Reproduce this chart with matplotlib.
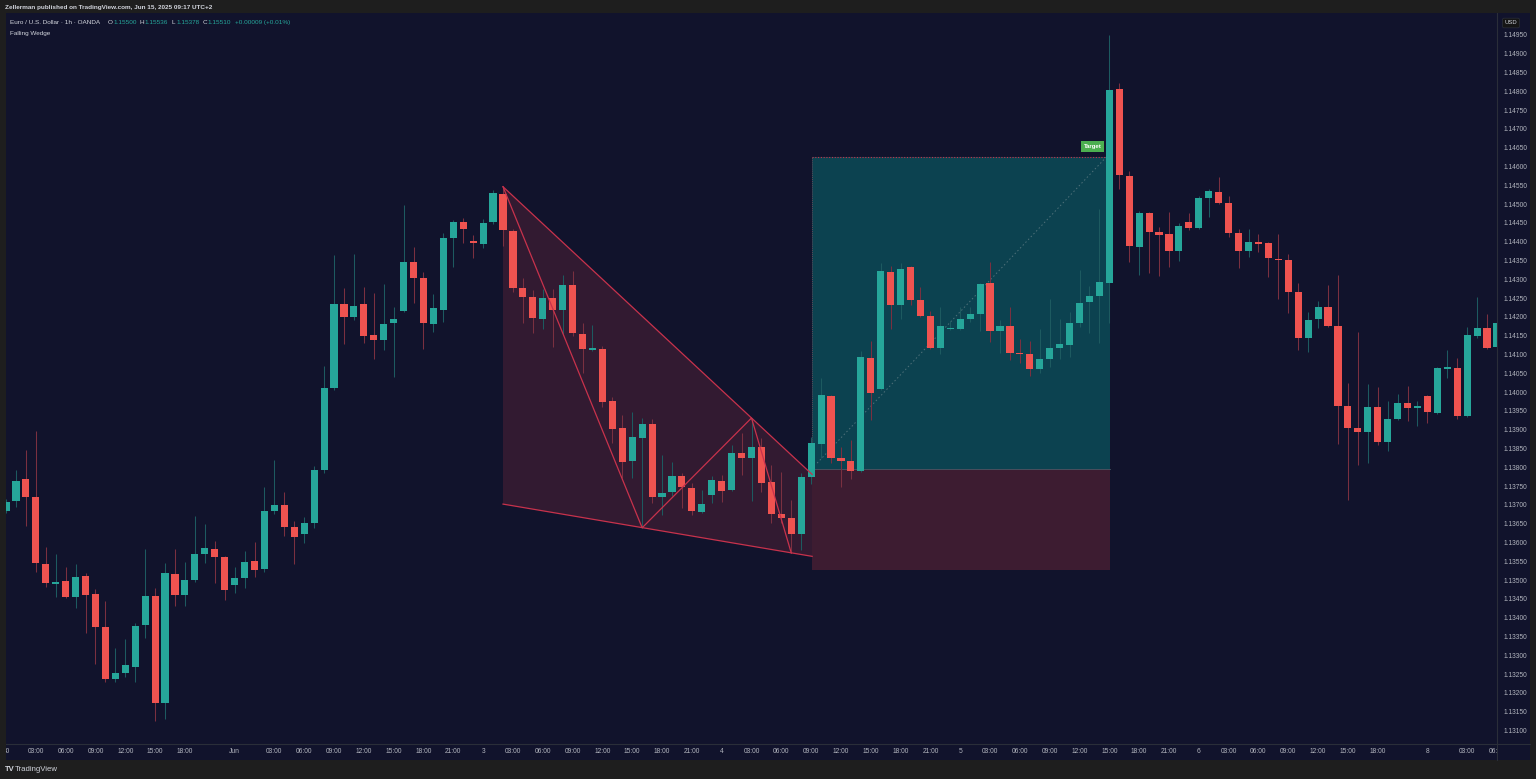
import matplotlib.pyplot as plt
from matplotlib.patches import Rectangle, Polygon
import numpy as np

# EUR/USD 1h candles, bar 0 = Fri May 30 00:00 (UTC+2)
opens = [1.13684, 1.13710, 1.13769, 1.13721, 1.13543, 1.13490, 1.13498, 1.13455, 1.13511, 1.13463,
         1.13375, 1.13237, 1.13253, 1.13269, 1.13381, 1.13458, 1.13173, 1.13516, 1.13460, 1.13500,
         1.13569, 1.13583, 1.13561, 1.13487, 1.13506, 1.13551, 1.13530, 1.13684, 1.13700, 1.13641,
         1.13623, 1.13652, 1.13793, 1.14011, 1.14234, 1.14200, 1.14234, 1.14152, 1.14139, 1.14184,
         1.14216, 1.14346, 1.14304, 1.14181, 1.14218, 1.14410, 1.14453, 1.14402, 1.14394, 1.14453,
         1.14527, 1.14429, 1.14277, 1.14253, 1.14195, 1.14250, 1.14218, 1.14285, 1.14155, 1.14112,
         1.14115, 1.13976, 1.13905, 1.13817, 1.13879, 1.13915, 1.13721, 1.13734, 1.13777, 1.13745,
         1.13681, 1.13726, 1.13764, 1.13740, 1.13838, 1.13825, 1.13854, 1.13761, 1.13676, 1.13665,
         1.13623, 1.13774, 1.13862, 1.13990, 1.13825, 1.13817, 1.13790, 1.14091, 1.14008, 1.14320,
         1.14232, 1.14333, 1.14245, 1.14202, 1.14117, 1.14168, 1.14168, 1.14195, 1.14208, 1.14290,
         1.14163, 1.14176, 1.14104, 1.14101, 1.14062, 1.14088, 1.14117, 1.14125, 1.14184, 1.14240,
         1.14256, 1.14290, 1.14806, 1.14575, 1.14386, 1.14476, 1.14426, 1.14421, 1.14375, 1.14453,
         1.14437, 1.14516, 1.14532, 1.14504, 1.14423, 1.14375, 1.14399, 1.14397, 1.14354, 1.14351,
         1.14266, 1.14144, 1.14195, 1.14226, 1.14176, 1.13963, 1.13905, 1.13894, 1.13960, 1.13867,
         1.13929, 1.13971, 1.13958, 1.13990, 1.13944, 1.14062, 1.14064, 1.13936, 1.14149, 1.14171,
         1.14120]
highs = [1.13716, 1.13793, 1.13846, 1.13897, 1.13588, 1.13569, 1.13535, 1.13543, 1.13519, 1.13476,
         1.13444, 1.13319, 1.13343, 1.13386, 1.13583, 1.13479, 1.13545, 1.13583, 1.13548, 1.13670,
         1.13649, 1.13604, 1.13564, 1.13535, 1.13577, 1.13601, 1.13748, 1.13819, 1.13734, 1.13657,
         1.13668, 1.13803, 1.14069, 1.14365, 1.14277, 1.14367, 1.14280, 1.14264, 1.14288, 1.14226,
         1.14498, 1.14386, 1.14320, 1.14261, 1.14423, 1.14458, 1.14463, 1.14418, 1.14461, 1.14538,
         1.14546, 1.14434, 1.14304, 1.14272, 1.14274, 1.14274, 1.14312, 1.14322, 1.14184, 1.14179,
         1.14123, 1.13987, 1.13939, 1.13947, 1.13931, 1.13929, 1.13833, 1.13814, 1.13785, 1.13758,
         1.13740, 1.13777, 1.13780, 1.13859, 1.13891, 1.13931, 1.13879, 1.13806, 1.13788, 1.13713,
         1.13785, 1.13881, 1.14038, 1.13992, 1.13854, 1.13873, 1.14109, 1.14136, 1.14343, 1.14335,
         1.14343, 1.14335, 1.14280, 1.14216, 1.14226, 1.14189, 1.14226, 1.14226, 1.14290, 1.14346,
         1.14192, 1.14226, 1.14141, 1.14136, 1.14168, 1.14248, 1.14195, 1.14213, 1.14325, 1.14282,
         1.14487, 1.14950, 1.14822, 1.14588, 1.14482, 1.14479, 1.14439, 1.14479, 1.14450, 1.14476,
         1.14522, 1.14540, 1.14572, 1.14522, 1.14434, 1.14434, 1.14421, 1.14399, 1.14421, 1.14367,
         1.14290, 1.14213, 1.14242, 1.14285, 1.14312, 1.14024, 1.14160, 1.14022, 1.14014, 1.13976,
         1.13995, 1.14016, 1.13976, 1.13992, 1.14067, 1.14112, 1.14091, 1.14173, 1.14253, 1.14208,
         1.14192]
lows = [1.13678, 1.13694, 1.13644, 1.13522, 1.13482, 1.13455, 1.13452, 1.13426, 1.13359, 1.13277,
        1.13229, 1.13229, 1.13242, 1.13229, 1.13346, 1.13125, 1.13131, 1.13431, 1.13431, 1.13495,
        1.13545, 1.13492, 1.13447, 1.13466, 1.13479, 1.13508, 1.13522, 1.13676, 1.13617, 1.13543,
        1.13599, 1.13639, 1.13785, 1.14006, 1.14128, 1.14192, 1.14131, 1.14088, 1.14112, 1.14040,
        1.14213, 1.14237, 1.14115, 1.14160, 1.14187, 1.14333, 1.14397, 1.14357, 1.14383, 1.14447,
        1.14389, 1.14266, 1.14184, 1.14157, 1.14168, 1.14120, 1.14152, 1.14149, 1.14051, 1.14109,
        1.13960, 1.13865, 1.13772, 1.13772, 1.13639, 1.13705, 1.13673, 1.13724, 1.13692, 1.13673,
        1.13678, 1.13705, 1.13708, 1.13737, 1.13780, 1.13710, 1.13734, 1.13652, 1.13652, 1.13572,
        1.13580, 1.13756, 1.13825, 1.13811, 1.13748, 1.13769, 1.13788, 1.13926, 1.14006, 1.14168,
        1.14195, 1.14232, 1.14200, 1.14115, 1.14101, 1.14165, 1.14165, 1.14187, 1.14163, 1.14133,
        1.14104, 1.14085, 1.14077, 1.14043, 1.14051, 1.14067, 1.14088, 1.14093, 1.14173, 1.14157,
        1.14131, 1.14184, 1.14540, 1.14346, 1.14312, 1.14317, 1.14309, 1.14333, 1.14349, 1.14431,
        1.14434, 1.14466, 1.14501, 1.14413, 1.14330, 1.14359, 1.14373, 1.14306, 1.14248, 1.14210,
        1.14112, 1.14107, 1.14171, 1.14173, 1.13862, 1.13713, 1.13806, 1.13811, 1.13859, 1.13843,
        1.13926, 1.13923, 1.13910, 1.13918, 1.13941, 1.14038, 1.13929, 1.13933, 1.14144, 1.14115,
        1.14112]
closes = [1.13708, 1.13764, 1.13721, 1.13545, 1.13492, 1.13495, 1.13455, 1.13508, 1.13460, 1.13375,
          1.13237, 1.13253, 1.13274, 1.13378, 1.13458, 1.13173, 1.13519, 1.13460, 1.13500, 1.13569,
          1.13585, 1.13561, 1.13474, 1.13506, 1.13548, 1.13527, 1.13684, 1.13700, 1.13641, 1.13615,
          1.13652, 1.13793, 1.14011, 1.14234, 1.14200, 1.14229, 1.14149, 1.14139, 1.14181, 1.14195,
          1.14346, 1.14304, 1.14184, 1.14224, 1.14410, 1.14453, 1.14434, 1.14397, 1.14450, 1.14530,
          1.14431, 1.14277, 1.14253, 1.14197, 1.14250, 1.14218, 1.14285, 1.14157, 1.14115, 1.14117,
          1.13974, 1.13902, 1.13814, 1.13881, 1.13915, 1.13721, 1.13732, 1.13777, 1.13748, 1.13684,
          1.13702, 1.13766, 1.13737, 1.13838, 1.13825, 1.13854, 1.13758, 1.13676, 1.13665, 1.13623,
          1.13774, 1.13865, 1.13992, 1.13825, 1.13817, 1.13790, 1.14093, 1.13998, 1.14322, 1.14232,
          1.14328, 1.14245, 1.14202, 1.14117, 1.14176, 1.14171, 1.14195, 1.14208, 1.14288, 1.14163,
          1.14176, 1.14104, 1.14101, 1.14062, 1.14088, 1.14117, 1.14128, 1.14184, 1.14237, 1.14256,
          1.14293, 1.14804, 1.14578, 1.14389, 1.14476, 1.14426, 1.14418, 1.14375, 1.14442, 1.14437,
          1.14516, 1.14535, 1.14504, 1.14423, 1.14375, 1.14399, 1.14394, 1.14357, 1.14351, 1.14266,
          1.14144, 1.14192, 1.14226, 1.14176, 1.13963, 1.13905, 1.13894, 1.13960, 1.13867, 1.13929,
          1.13971, 1.13958, 1.13963, 1.13947, 1.14064, 1.14067, 1.13936, 1.14152, 1.14171, 1.14117,
          1.14184]

# time axis labels (bar index -> text)
tick_bars = [0, 3, 6, 9, 12, 15, 18, 23, 27, 30, 33, 36, 39, 42, 45,
             48, 51, 54, 57, 60, 63, 66, 69, 72, 75, 78, 81, 84, 87, 90, 93,
             96, 99, 102, 105, 108, 111, 114, 117, 120, 123, 126, 129, 132, 135, 138,
             143, 147, 150]
tick_labels = ["30", "03:00", "06:00", "09:00", "12:00", "15:00", "18:00", "Jun",
               "03:00", "06:00", "09:00", "12:00", "15:00", "18:00", "21:00",
               "3", "03:00", "06:00", "09:00", "12:00", "15:00", "18:00", "21:00",
               "4", "03:00", "06:00", "09:00", "12:00", "15:00", "18:00", "21:00",
               "5", "03:00", "06:00", "09:00", "12:00", "15:00", "18:00", "21:00",
               "6", "03:00", "06:00", "09:00", "12:00", "15:00", "18:00",
               "8", "03:00", "06:00"]

# falling wedge pivots (bar, price)
wedge_zigzag = [(50, 1.14546), (64, 1.13639), (75, 1.13931), (79, 1.13572)]
wedge_upper = [(50, 1.14546), (81.1, 1.13781)]
wedge_lower = [(50, 1.13702), (81.1, 1.13563)]

# long position tool
pos_start, pos_end = 81.1, 111.1
entry_price, target_price, stop_price = 1.13795, 1.14625, 1.13527

W, H = 1536, 779
BG = "#11132c"
FRAME = "#1e1e1e"
UP = "#26a69a"
DOWN = "#ef5350"
TXT = "#b2b5be"
LINE = "#c8324c"
FONT = "Liberation Sans"


def fx(px):
    return px / W


def fy(py):
    return 1 - py / H


fig = plt.figure(figsize=(W / 100, H / 100), dpi=100, facecolor=FRAME)

# navy panel behind chart, price scale and time scale
fig.patches.append(Rectangle((fx(6), fy(760)), fx(1530) - fx(6), fy(13) - fy(760),
                             transform=fig.transFigure, fc=BG, ec="none", zorder=-5))

ax = fig.add_axes([fx(6), fy(744), fx(1497) - fx(6), fy(13) - fy(744)])
ax.set_facecolor(BG)
for s in ax.spines.values():
    s.set_visible(False)

x = np.arange(len(opens))
o, h, l, c = (np.array(v) for v in (opens, highs, lows, closes))
up = c >= o
body_col = np.where(up, UP, DOWN)
wick_col = np.where(up, "#1d5a60", "#7a3040")

ax.vlines(x, l, h, colors=wick_col, lw=0.75, zorder=3)
ax.bar(x, np.maximum(np.abs(c - o), 0.00003), bottom=np.minimum(o, c),
       width=0.72, color=body_col, lw=0, zorder=4)

# wedge
wx = [wedge_upper[0][0], wedge_upper[1][0], wedge_lower[1][0], wedge_lower[0][0]]
wy = [wedge_upper[0][1], wedge_upper[1][1], wedge_lower[1][1], wedge_lower[0][1]]
ax.add_patch(Polygon(list(zip(wx, wy)), closed=True, fc="#321a31", ec="none", zorder=1))
for seg in (wedge_upper, wedge_lower, wedge_zigzag):
    ax.plot([p[0] for p in seg], [p[1] for p in seg], color=LINE, lw=0.9, zorder=5)

# position boxes
ax.add_patch(Rectangle((pos_start, entry_price), pos_end - pos_start, target_price - entry_price,
                       fc="#0c4250", ec="none", zorder=1))
ax.add_patch(Rectangle((pos_start, stop_price), pos_end - pos_start, entry_price - stop_price,
                       fc="#3d1c31", ec="none", zorder=1))
ax.plot([pos_start, pos_end], [entry_price, entry_price], color="#4a5866", lw=0.6, zorder=2)
ax.plot([pos_start, pos_end - 0.4], [target_price, target_price], color=LINE, lw=0.8,
        ls=(0, (1, 1.5)), zorder=2)
ax.plot([pos_start, pos_start], [entry_price, target_price], color="#7a4a5a", lw=0.6,
        ls=(0, (1, 1.5)), zorder=2)
ax.plot([pos_start + 0.5, pos_end - 0.4], [1.13811, target_price], color="#4f717a", lw=0.7,
        ls=(0, (1.5, 2.5)), zorder=2)
ax.text(109.3, 1.14653, "Target", fontsize=4.3, color="white", weight="bold", family=FONT,
        ha="center", va="center", zorder=6,
        bbox=dict(boxstyle="square,pad=0.45", fc="#4caf50", ec="none"))

ax.set_xlim((6 - 3.6) / 9.965, (1497 - 3.6) / 9.965)
ax.set_ylim(1.13064, 1.15008)

price_ticks = np.round(np.arange(1.13100, 1.14951, 0.0005), 5)
ax.yaxis.tick_right()
ax.set_yticks(price_ticks)
ax.set_yticklabels([f"{p:.5f}" for p in price_ticks])
ax.set_xticks(tick_bars)
ax.set_xticklabels(tick_labels)
ax.tick_params(axis="y", length=0, pad=4.5, labelsize=4.8, labelcolor=TXT)
ax.tick_params(axis="x", length=0, pad=3, labelsize=4.8, labelcolor=TXT)
for t in ax.get_xticklabels() + ax.get_yticklabels():
    t.set_family(FONT)

# scale borders
fig.add_artist(plt.Line2D([fx(6), fx(1530)], [fy(744), fy(744)], color="#2a2e39", lw=0.8,
                          transform=fig.transFigure))
fig.add_artist(plt.Line2D([fx(1497), fx(1497)], [fy(13), fy(760)], color="#2a2e39", lw=0.8,
                          transform=fig.transFigure))
fig.patches.append(Rectangle((fx(1497.5), fy(760)), fx(1530) - fx(1497.5), fy(744.5) - fy(760),
                             transform=fig.transFigure, fc=BG, ec="none", zorder=3))
# left frame strip hides the cut-off first date label
fig.patches.append(Rectangle((0, fy(779)), fx(5.5), 1, transform=fig.transFigure,
                             fc=FRAME, ec="none", zorder=3))
fig.text(fx(1511), fy(23), "USD", fontsize=4.2, color="#d1d4dc", family=FONT,
         ha="center", va="center", bbox=dict(boxstyle="round,pad=0.4,rounding_size=0.3",
                                             fc="#151515", ec="#2a2e39", lw=0.5))

# header texts
fig.text(fx(5), fy(7), "Zellerman published on TradingView.com, Jun 15, 2025 09:17 UTC+2",
         fontsize=4.6, color="#d1d4dc", weight="bold", family=FONT, va="center")
fig.text(fx(10), fy(22.5), "Euro / U.S. Dollar \u00b7 1h \u00b7 OANDA", fontsize=4.6,
         color="#d1d4dc", family=FONT, va="center")
info = [(108, "O", "#d1d4dc"), (113, "1.15500", UP), (140, "H", "#d1d4dc"), (144, "1.15536", UP),
        (172, "L", "#d1d4dc"), (176, "1.15378", UP), (203, "C", "#d1d4dc"), (207, "1.15510", UP),
        (235, "+0.00009 (+0.01%)", UP)]
for px, s, col in info:
    fig.text(fx(px), fy(22.5), s, fontsize=4.6, color=col, family=FONT, va="center")
fig.text(fx(10), fy(33), "Falling Wedge", fontsize=4.6, color="#d1d4dc", family=FONT, va="center")

# footer logo
fig.text(fx(5), fy(769.5), "TV", fontsize=5.5, color="#d1d4dc", weight="bold", family=FONT,
         va="center", zorder=4)
fig.text(fx(15), fy(769.5), "TradingView", fontsize=5.6, color="#d1d4dc", family=FONT,
         va="center", zorder=4)

fig.savefig("out.png", dpi=100, facecolor=FRAME)
